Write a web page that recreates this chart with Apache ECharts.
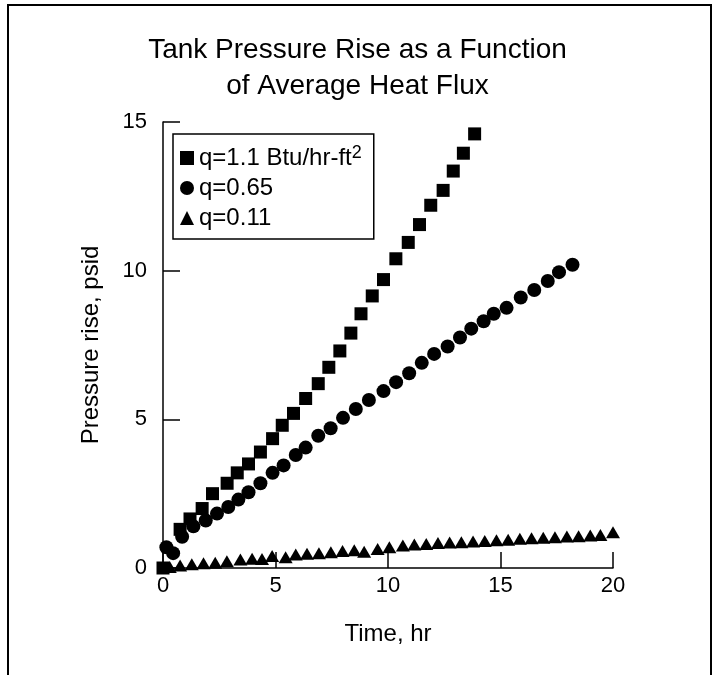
<!DOCTYPE html>
<html>

<head>
  <meta charset="UTF-8">
  <title>Tank Pressure Rise as a Function of Average Heat Flux</title>
  <style>
    html, body {
      margin: 0;
      padding: 0;
      background: #fff;
    }

    #chart {
      width: 715px;
      height: 675px;
    }
  </style>
</head>

<body>
  <div id="chart"></div>
  <script type="text/javascript" src="https://cdn.jsdelivr.net/npm/echarts@6/dist/echarts.min.js"></script>
  <script type="text/javascript">
    var seriesNames = ['q=1.1 Btu/hr-ft²', 'q=0.65', 'q=0.11'];
    var xTicks = [0, 5, 10, 15, 20];
    var yTicks = [0, 5, 10, 15];

    // time (hr), pressure rise (psid)
    var squareData = [
      [0, 0], [0.76, 1.3], [1.2, 1.65], [1.74, 2.0], [2.2, 2.5], [2.85, 2.85], [3.3, 3.2],
      [3.8, 3.5], [4.33, 3.9], [4.87, 4.35], [5.3, 4.8], [5.8, 5.2], [6.34, 5.7], [6.9, 6.2],
      [7.37, 6.75], [7.86, 7.3], [8.35, 7.9], [8.8, 8.55], [9.3, 9.15], [9.8, 9.7], [10.35, 10.4],
      [10.9, 10.95], [11.4, 11.55], [11.9, 12.2], [12.45, 12.7], [12.9, 13.35], [13.35, 13.95], [13.85, 14.6]
    ];
    var circleData = [
      [0.15, 0.7], [0.45, 0.5], [0.85, 1.05], [1.35, 1.4], [1.9, 1.6], [2.4, 1.83], [2.9, 2.05],
      [3.35, 2.3], [3.8, 2.55], [4.33, 2.85], [4.87, 3.2], [5.36, 3.45], [5.9, 3.8], [6.34, 4.05],
      [6.9, 4.45], [7.45, 4.7], [8.0, 5.05], [8.57, 5.35], [9.15, 5.65], [9.8, 5.95], [10.36, 6.25],
      [10.94, 6.55], [11.5, 6.9], [12.05, 7.2], [12.65, 7.45], [13.2, 7.75], [13.7, 8.05], [14.25, 8.3],
      [14.7, 8.55], [15.27, 8.75], [15.9, 9.1], [16.5, 9.35], [17.1, 9.65], [17.6, 9.95], [18.2, 10.2]
    ];
    var triangleData = [
      [0.3, 0.03], [0.76, 0.08], [1.28, 0.13], [1.8, 0.16], [2.32, 0.18], [2.84, 0.23], [3.44, 0.29],
      [3.96, 0.31], [4.4, 0.3], [4.85, 0.4], [5.45, 0.36], [5.9, 0.45], [6.4, 0.48], [6.93, 0.5],
      [7.46, 0.53], [7.98, 0.57], [8.5, 0.6], [8.94, 0.55], [9.54, 0.64], [10.06, 0.7], [10.66, 0.76],
      [11.17, 0.79], [11.7, 0.81], [12.22, 0.84], [12.74, 0.86], [13.26, 0.87], [13.78, 0.89], [14.3, 0.91],
      [14.82, 0.93], [15.34, 0.95], [15.86, 0.98], [16.38, 1.0], [16.9, 1.02], [17.42, 1.03], [17.95, 1.06],
      [18.47, 1.07], [18.99, 1.09], [19.44, 1.11], [20.0, 1.2]
    ];

    var font = "'Liberation Sans', Arial, Helvetica, sans-serif";
    var myChart;

    initChart();

    function initChart() {
      myChart = echarts.init(document.getElementById('chart'), null, { renderer: 'canvas' });
      var option = {
        animation: false,
        backgroundColor: '#fff',
        textStyle: { fontFamily: font, color: '#000' },
        title: {
          text: 'Tank Pressure Rise as a Function\nof Average Heat Flux',
          left: 'center',
          top: 27,
          textStyle: {
            fontFamily: font,
            fontSize: 28,
            fontWeight: 'normal',
            lineHeight: 36,
            color: '#000'
          }
        },
        graphic: [{
          type: 'rect',
          shape: { x: 8, y: 5, width: 703, height: 690 },
          style: { fill: 'none', stroke: '#000', lineWidth: 2 },
          silent: true
        }],
        legend: {
          orient: 'vertical',
          left: 173,
          top: 134,
          padding: [10, 12, 9, 7],
          itemGap: 6,
          itemWidth: 14,
          itemHeight: 14,
          borderColor: '#000',
          borderWidth: 1.5,
          data: seriesNames,
          formatter: function (name) {
            if (name.indexOf('²') >= 0) {
              return '{a|' + name.replace('²', '') + '}{s|2}';
            }
            return '{a|' + name + '}';
          },
          textStyle: {
            color: '#000',
            rich: {
              a: { fontFamily: font, fontSize: 24, lineHeight: 28, color: '#000' },
              s: { fontFamily: font, fontSize: 18, lineHeight: 28, verticalAlign: 'top', color: '#000' }
            }
          }
        },
        grid: {
          left: 163,
          right: 102,
          top: 122,
          bottom: 107
        },
        xAxis: {
          type: 'value',
          min: xTicks[0],
          max: xTicks[xTicks.length - 1],
          interval: 5,
          name: 'Time, hr',
          nameLocation: 'middle',
          nameGap: 54,
          nameTextStyle: { fontFamily: font, fontSize: 24, color: '#000' },
          axisLine: { lineStyle: { color: '#000', width: 1.5 } },
          axisTick: { inside: true, length: 16, lineStyle: { color: '#000', width: 1.5 } },
          axisLabel: { fontFamily: font, fontSize: 22, color: '#000', margin: 7 },
          splitLine: { show: false }
        },
        yAxis: {
          type: 'value',
          min: yTicks[0],
          max: yTicks[yTicks.length - 1],
          interval: 5,
          name: 'Pressure rise, psid',
          nameLocation: 'middle',
          nameRotate: 90,
          nameGap: 60,
          nameTextStyle: { fontFamily: font, fontSize: 24, color: '#000' },
          axisLine: { lineStyle: { color: '#000', width: 1.5 } },
          axisTick: { inside: true, length: 17, lineStyle: { color: '#000', width: 1.5 } },
          axisLabel: { fontFamily: font, fontSize: 22, color: '#000', margin: 16 },
          splitLine: { show: false }
        },
        series: [
          {
            name: seriesNames[0],
            type: 'scatter',
            symbol: 'rect',
            symbolSize: 13,
            clip: false,
            itemStyle: { color: '#000', opacity: 1 },
            data: squareData
          },
          {
            name: seriesNames[1],
            type: 'scatter',
            symbol: 'circle',
            symbolSize: 14,
            clip: false,
            itemStyle: { color: '#000', opacity: 1 },
            data: circleData
          },
          {
            name: seriesNames[2],
            type: 'scatter',
            symbol: 'triangle',
            symbolSize: [14, 12],
            clip: false,
            itemStyle: { color: '#000', opacity: 1 },
            data: triangleData
          }
        ]
      };
      myChart.setOption(option);
    }
  </script>
</body>

</html>
